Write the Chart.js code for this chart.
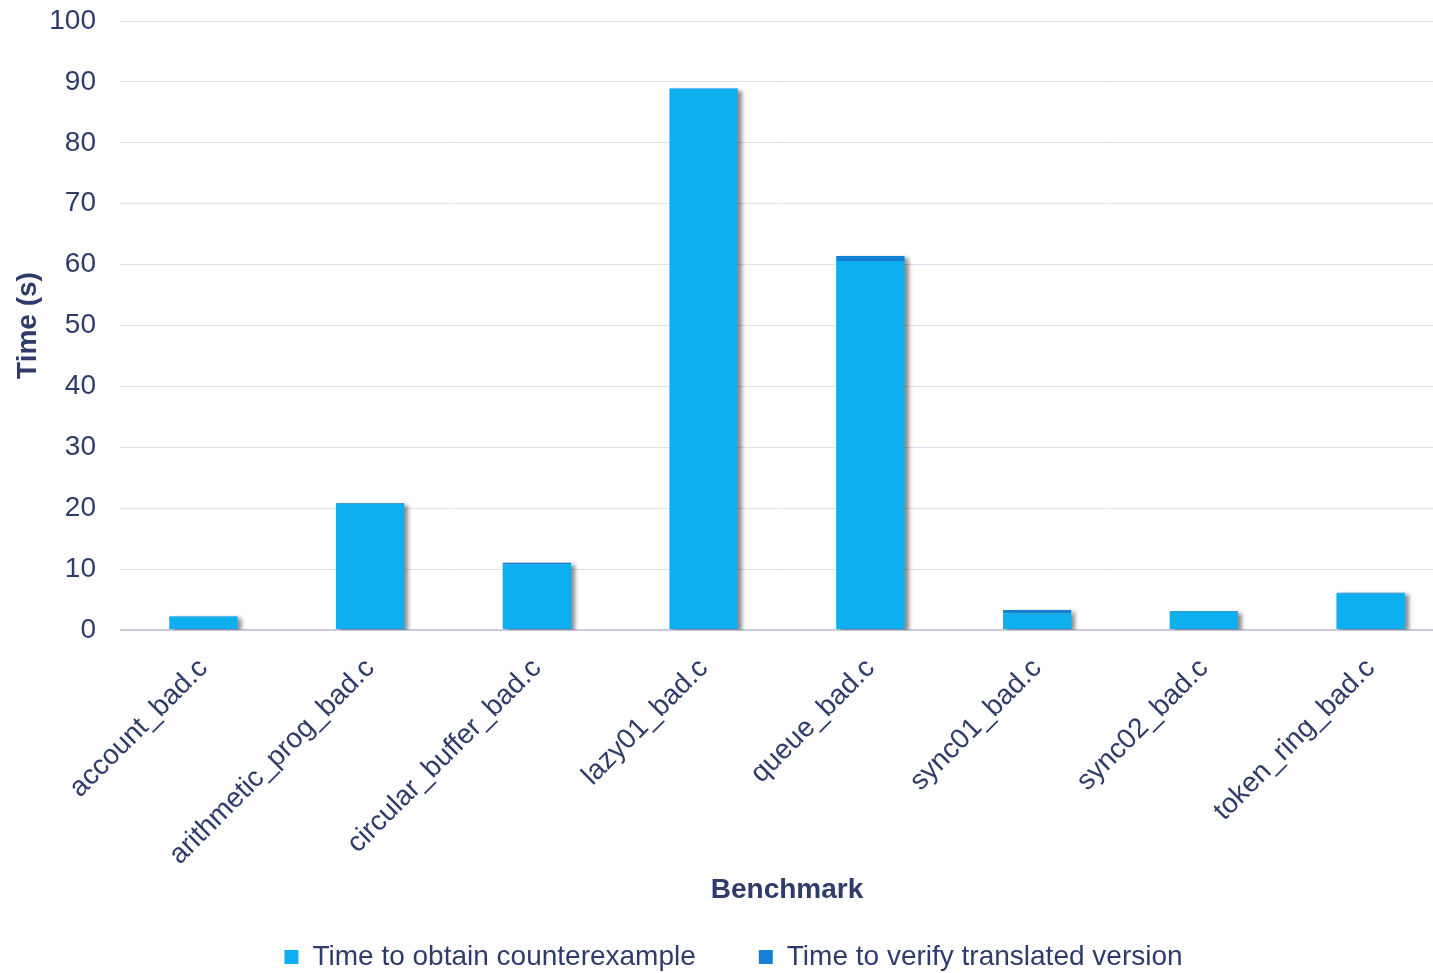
<!DOCTYPE html>
<html>
<head>
<meta charset="utf-8">
<script src="https://cdn.jsdelivr.net/npm/chart.js@4/dist/chart.umd.min.js"></script>
<style>
  html, body { margin: 0; padding: 0; background: #fff; }
  #wrap { width: 1433px; height: 973px; }
</style>
</head>
<body>
<div id="wrap"><canvas id="grafica"></canvas></div>
<script>
// datos de la grafica
var benchmarks = ['account_bad.c', 'arithmetic_prog_bad.c', 'circular_buffer_bad.c', 'lazy01_bad.c',
                  'queue_bad.c', 'sync01_bad.c', 'sync02_bad.c', 'token_ring_bad.c'];
var tiempoContraejemplo = [2.2, 20.7, 10.8, 88.9, 60.6, 2.7, 3.0, 6.0];
var tiempoVerificacion = [0.05, 0.1, 0.25, 0.05, 0.8, 0.6, 0.1, 0.1];
var ticksY = [0, 10, 20, 30, 40, 50, 60, 70, 80, 90, 100];

var colorTexto = '#2F3B6B';
var fuente = '"Liberation Sans", Arial, sans-serif';

// sombra de las barras
var sombraBarras = {
  id: 'sombraBarras',
  beforeDatasetsDraw: function (chart) {
    var ctx = chart.ctx;
    ctx.save();
    ctx.shadowColor = 'rgba(0,0,0,0.45)';
    ctx.shadowBlur = 4;
    ctx.shadowOffsetX = 4;
    ctx.shadowOffsetY = 2;
  },
  afterDatasetsDraw: function (chart) {
    chart.ctx.restore();
  }
};

// la leyenda queda un poco mas abajo
var ajusteLeyenda = {
  id: 'ajusteLeyenda',
  beforeLayout: function (chart) {
    var lg = chart.legend;
    if (lg && !lg._ajustado) {
      var fitOriginal = lg.fit;
      lg.fit = function () {
        fitOriginal.call(this);
        this.height = this.height - 8;
      };
      lg._ajustado = true;
    }
  }
};

// el eje x sigue un poco mas alla del borde derecho (la imagen original esta recortada)
var ejeRecortado = {
  id: 'ejeRecortado',
  afterLayout: function (chart) {
    var x = chart.scales.x;
    x.right += 21;
    x.width += 21;
    x.configure();
    chart.legend.left += 17;
    chart.legend.right += 17;
  }
};

var grafica = document.getElementById('grafica');
var ctxgrafica = new Chart(grafica, {
  type: 'bar',
  data: {
    labels: benchmarks,
    datasets: [{
      label: 'Time to obtain counterexample',
      data: tiempoContraejemplo,
      backgroundColor: '#0DAFEE',
      borderWidth: 0
    }, {
      label: 'Time to verify translated version',
      data: tiempoVerificacion,
      backgroundColor: '#1480D6',
      borderWidth: 0
    }]
  },
  options: {
    responsive: true,
    maintainAspectRatio: false,
    animation: false,
    layout: { padding: { left: 0, right: 0, top: 21, bottom: 0 } },
    datasets: { bar: { categoryPercentage: 1, barPercentage: 0.41 } },
    scales: {
      x: {
        stacked: true,
        grid: { display: false, drawTicks: false },
        border: { display: false },
        ticks: {
          color: colorTexto,
          font: { family: fuente, size: 28 },
          minRotation: 45,
          maxRotation: 45,
          padding: 22
        },
        title: {
          display: true,
          text: 'Benchmark',
          color: colorTexto,
          font: { family: fuente, size: 28, weight: 'bold' },
          padding: { top: 0, bottom: -27 }
        },
        afterFit: function (scale) {
          scale.height = 250;
          scale.paddingLeft = 0;
          scale.paddingRight = 0;
        }
      },
      y: {
        stacked: true,
        min: 0,
        max: 100,
        afterBuildTicks: function (axis) {
          axis.ticks = ticksY.map(function (v) { return { value: v }; });
        },
        grid: {
          color: function (c) { return c.tick.value === 0 ? '#C9CCDF' : '#DDE0EE'; },
          lineWidth: function (c) { return c.tick.value === 0 ? 2 : 1; },
          drawTicks: false
        },
        border: { display: false },
        ticks: {
          color: colorTexto,
          font: { family: fuente, size: 28 },
          padding: 24
        },
        title: {
          display: true,
          text: 'Time (s)',
          color: colorTexto,
          font: { family: fuente, size: 28, weight: 'bold' },
          padding: { top: 11, bottom: 0 }
        },
        afterFit: function (scale) {
          scale.width = 120;
          scale.paddingTop = 0;
          scale.paddingBottom = 0;
        }
      }
    },
    plugins: {
      legend: {
        position: 'bottom',
        labels: {
          color: colorTexto,
          font: { family: fuente, size: 28 },
          boxWidth: 14,
          boxHeight: 14,
          padding: 63
        }
      },
      tooltip: { enabled: false }
    }
  },
  plugins: [sombraBarras, ajusteLeyenda, ejeRecortado]
});
</script>
</body>
</html>
